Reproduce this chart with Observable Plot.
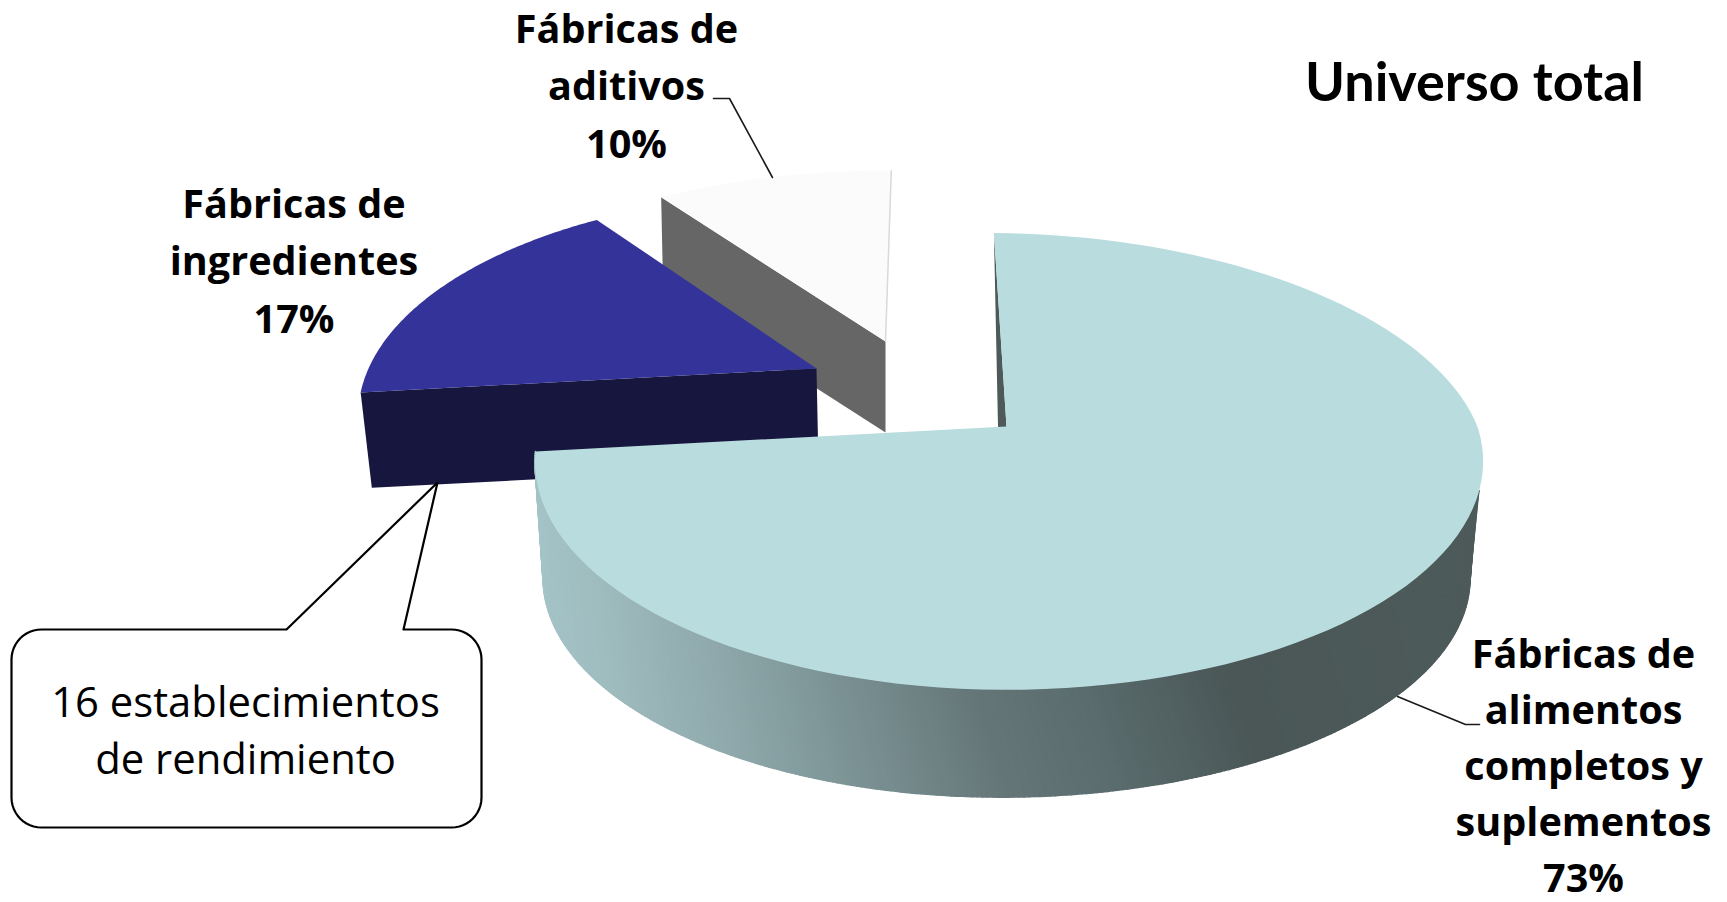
<!DOCTYPE html>
<html><head><meta charset="utf-8">
<script src="https://cdn.jsdelivr.net/npm/d3@7"></script>
<script src="https://cdn.jsdelivr.net/npm/@observablehq/plot@0.6"></script>
<style>html,body{margin:0;padding:0;background:#fff;overflow:hidden}svg{display:block}</style>
</head><body><div id="chart"></div>
<script>
const categories = ["Fábricas de alimentos completos y suplementos", "Fábricas de ingredientes", "Fábricas de aditivos"];
const shares = [73, 17, 10];
const labelTexts = ["Fábricas de\nalimentos\ncompletos y\nsuplementos\n73%", "Fábricas de\ningredientes\n17%", "Fábricas de\naditivos\n10%"];
const titleText = "Universo total";
const calloutText = "16 establecimientos\nde rendimiento";

// Perspective frames of each exploded slice: top plane and bottom plane
const startAngle = 0.9;
const frames = [
  {top: {x0: 1006, y0: 426, al: 466, ar: 471, b: 223, k: 0.153, sh: -19},
   bot: {x0: 1000, y0: 544, al: 452, ar: 464, b: 214, k: 0.153, sh: -18}},
  {top: {x0: 816, y0: 368, al: 448, ar: 448, b: 213, k: 0.211, sh: 0},
   bot: {x0: 818, y0: 464, al: 439, ar: 439, b: 208, k: 0.211, sh: 0}},
  {top: {x0: 885, y0: 341, al: 454, ar: 444, b: 205, k: 0.2, sh: 0},
   bot: {x0: 885, y0: 432, al: 450, ar: 440, b: 203, k: 0.2, sh: 0}}
];
const faceColors = ["#b9dcde", "#333399", "#fbfbfb"];
const sideColors = ["#4e5a5a", "#16163f", "#666666"];
const shadeStops = [543, 600, 720, 820, 988, 1100, 1240, 1500];
const shadeColors = ["#a4c3c6", "#9fbcbf", "#8fa9ac", "#7f9799", "#657678", "#5a6c6d", "#4b5757", "#4e5b5b"];

const rad = Math.PI / 180;
const project = (f, deg) => {
  const u = Math.sin(deg * rad), v = Math.cos(deg * rad), w = 1 + f.k * v;
  return {
    x: f.x0 + (u < 0 ? f.al : f.ar) * u / w + f.sh * Math.max(v, 0),
    y: f.y0 - f.b * v / w
  };
};
// slice angle ranges from the shares
let acc = startAngle;
const ranges = shares.map(s => { const a = acc; acc += s * 3.6; return [a, acc]; });

const facePoly = i => {
  const [a, b] = ranges[i], f = frames[i].top, pts = [{x: f.x0, y: f.y0}];
  for (let t = 0; t <= 120; t++) pts.push(project(f, a + (b - a) * t / 120));
  return pts;
};
// radial side wall from apex to one end of the slice
const radial = (i, deg) => {
  const {top, bot} = frames[i];
  return [project(top, deg), {x: top.x0, y: top.y0}, {x: bot.x0, y: bot.y0}, project(bot, deg)];
};
// main slice: shaded front wall only, cut into narrow quads
const wall = [];
{
  const topFrom = 106, botFrom = 98, b = ranges[0][1], {top, bot} = frames[0], n = 300;
  const at = (from, i) => from + (b - from) * i / n;
  for (let i = 0; i < n; i++) {
    const q = [project(top, at(topFrom, i)), project(top, at(topFrom, i + 1)), project(bot, at(botFrom, i + 1)), project(bot, at(botFrom, i))];
    const shade = d3.mean(q, p => p.x);
    q.forEach(p => wall.push({...p, seg: i, shade}));
  }
}
const sliver = [project(frames[0].top, ranges[0][0]),
  {x: frames[0].top.x0, y: frames[0].top.y0},
  {x: frames[0].bot.x0, y: frames[0].bot.y0}];

// Callout balloon
const box = {l: 11, r: 481, t: 629, b: 827, rx: 30, ry: 30};
const pointer = [{x: 403, y: 629}, {x: 437, y: 482}, {x: 286, y: 629}];
const arc = (cx, cy, from) => d3.range(0, 13).map(i => {
  const t = (from - i * 7.5) * rad;
  return {x: cx + box.rx * Math.cos(t), y: cy + box.ry * Math.sin(t)};
});
const callout = [
  ...pointer,
  ...arc(box.l + box.rx, box.t + box.ry, 270),
  ...arc(box.l + box.rx, box.b - box.ry, 180),
  ...arc(box.r - box.rx, box.b - box.ry, 90),
  ...arc(box.r - box.rx, box.t + box.ry, 0),
  pointer[0]
];

const leaders = [
  {id: 0, x: 1397, y: 696}, {id: 0, x: 1465, y: 724}, {id: 0, x: 1479, y: 724},
  {id: 1, x: 713, y: 98}, {id: 1, x: 729, y: 98}, {id: 1, x: 772, y: 177}
];
const labels = [
  {t: labelTexts[1], x: 293.5, y: 332},
  {t: labelTexts[2], x: 626, y: 157}
];
const mainLabel = [{t: labelTexts[0], x: 1583, y: 891}];
const flat = {x: "x", y: "y", stroke: "none", curve: "linear"};

const chart = Plot.plot({
  width: 1727, height: 902, margin: 0,
  x: {domain: [0, 1727], range: [0, 1727], axis: null},
  y: {domain: [0, 902], range: [0, 902], axis: null},
  color: {type: "linear", domain: shadeStops, range: shadeColors},
  style: {background: "white"},
  marks: [
    // additives slice
    Plot.line(radial(2, ranges[2][0]), {...flat, fill: sideColors[2]}),
    Plot.line(facePoly(2), {...flat, fill: faceColors[2]}),
    Plot.line(radial(2, ranges[2][1]).slice(0, 2), {x: "x", y: "y", stroke: "#d9d9d9", strokeWidth: 1.5}),
    // ingredients slice
    Plot.line(radial(1, ranges[1][0]), {...flat, fill: sideColors[1]}),
    Plot.line(facePoly(1), {...flat, fill: faceColors[1]}),
    // main slice
    Plot.line(wall, {x: "x", y: "y", z: "seg", fill: "shade", stroke: "shade", strokeWidth: 1.5, curve: "linear"}),
    Plot.line(sliver, {...flat, fill: sideColors[0]}),
    Plot.line(facePoly(0), {...flat, fill: faceColors[0]}),
    // leaders, callout and text
    Plot.line(leaders, {x: "x", y: "y", z: "id", stroke: "#1a1a1a", strokeWidth: 1.6}),
    Plot.line(callout, {x: "x", y: "y", fill: "white", stroke: "black", strokeWidth: 2.2, curve: "linear"}),
    Plot.text(labels, {x: "x", y: "y", text: "t", lineAnchor: "bottom", textAnchor: "middle", lineHeight: 57.5 / 39.6,
      fontFamily: "Open Sans", fontWeight: 700, fontSize: 39.6, fill: "black"}),
    Plot.text(mainLabel, {x: "x", y: "y", text: "t", lineAnchor: "bottom", textAnchor: "middle", lineHeight: 56 / 39.6,
      fontFamily: "Open Sans", fontWeight: 700, fontSize: 39.6, fill: "black"}),
    Plot.text([titleText], {x: () => 1474, y: () => 100, text: d => d, lineAnchor: "bottom", textAnchor: "middle",
      fontFamily: "Lato", fontWeight: 700, fontSize: 54, fill: "black"}),
    Plot.text([calloutText], {x: () => 245, y: () => 773, text: d => d, lineAnchor: "bottom", textAnchor: "middle", lineHeight: 57 / 41.8,
      fontFamily: "Open Sans", fontWeight: 400, fontSize: 41.8, fill: "black"})
  ]
});
document.getElementById("chart").appendChild(chart);
</script></body></html>
